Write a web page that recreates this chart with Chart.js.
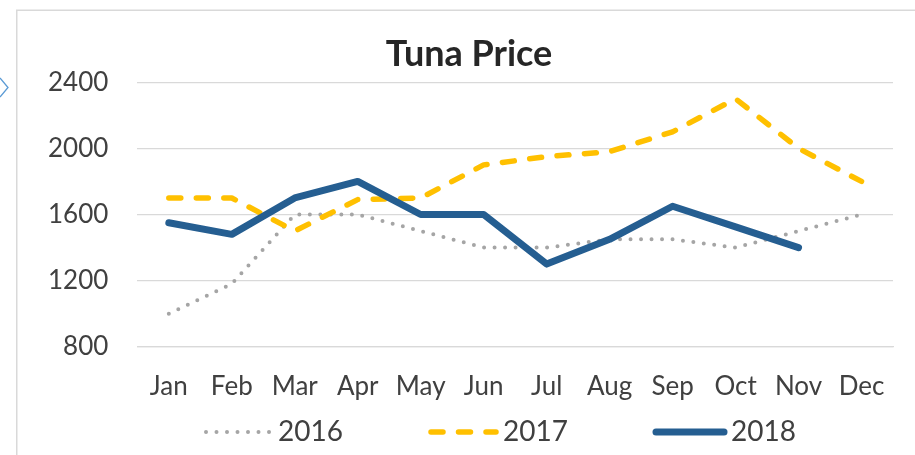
<!DOCTYPE html>
<html>
<head>
<meta charset="utf-8">
<script src="https://cdn.jsdelivr.net/npm/chart.js"></script>
<style>
  html, body { margin: 0; padding: 0; background: #fff; }
  #wrap { width: 915px; height: 455px; position: relative; }
</style>
</head>
<body>
<div id="wrap"><canvas id="c" width="915" height="455"></canvas></div>
<script>
const months = ['Jan', 'Feb', 'Mar', 'Apr', 'May', 'Jun', 'Jul', 'Aug', 'Sep', 'Oct', 'Nov', 'Dec'];
const price2016 = [1000, 1180, 1600, 1600, 1500, 1400, 1400, 1450, 1450, 1400, 1500, 1600];
const price2017 = [1700, 1700, 1500, 1690, 1700, 1900, 1950, 1980, 2100, 2300, 2000, 1800];
const price2018 = [1550, 1480, 1700, 1800, 1600, 1600, 1300, 1450, 1650, 1525, 1400, null];
const yTicks = [800, 1200, 1600, 2000, 2400];

const FONT = 'Lato, "Open Sans", sans-serif';
const TEXT = '#404040';

// frame of the chart object + the little selection chevron on the left edge
const framePlugin = {
  id: 'frame',
  afterLayout(chart) {
    // Excel centres the title in a frame wider than the visible crop
    chart.titleBlock.left += 13;
    chart.titleBlock.right += 13;
  },
  beforeDraw(chart) {
    const ctx = chart.ctx;
    ctx.save();
    ctx.strokeStyle = '#d9d9d9';
    ctx.lineWidth = 1.5;
    ctx.beginPath();
    ctx.moveTo(16.75, 460);
    ctx.lineTo(16.75, 10.25);
    ctx.lineTo(920, 10.25);
    ctx.stroke();
    ctx.strokeStyle = '#5b9bd5';
    ctx.lineWidth = 1.3;
    ctx.beginPath();
    ctx.moveTo(0, 78);
    ctx.lineTo(8, 87.5);
    ctx.lineTo(0, 97);
    ctx.stroke();
    ctx.restore();
  }
};

// legend drawn like Excel's: line sample then label
const legendPlugin = {
  id: 'lineLegend',
  afterDraw(chart) {
    const ctx = chart.ctx;
    const spots = [{ x: 206, w: 65 }, { x: 431, w: 65 }, { x: 656, w: 68 }];
    const y = 432;
    ctx.save();
    chart.data.datasets.forEach((ds, i) => {
      const s = spots[i];
      ctx.strokeStyle = ds.borderColor;
      ctx.lineWidth = ds.borderWidth;
      ctx.lineCap = 'round';
      ctx.setLineDash(ds.borderDash || []);
      ctx.beginPath();
      ctx.moveTo(s.x, y);
      ctx.lineTo(s.x + s.w, y);
      ctx.stroke();
      ctx.setLineDash([]);
      ctx.fillStyle = TEXT;
      ctx.font = '28px ' + FONT;
      ctx.textBaseline = 'middle';
      ctx.textAlign = 'left';
      ctx.fillText(ds.label, s.x + s.w + 7, y);
    });
    ctx.restore();
  }
};

new Chart(document.getElementById('c'), {
  type: 'line',
  data: {
    labels: months,
    datasets: [
      {
        label: '2016', data: price2016, order: 3,
        borderColor: '#a5a5a5', borderWidth: 4,
        borderDash: [0, 10.5], borderCapStyle: 'round', borderJoinStyle: 'round'
      },
      {
        label: '2017', data: price2017, order: 2,
        borderColor: '#ffc000', borderWidth: 5.5,
        borderDash: [12, 15.5], borderCapStyle: 'round', borderJoinStyle: 'round'
      },
      {
        label: '2018', data: price2018, order: 1,
        borderColor: '#255e91', borderWidth: 7,
        borderCapStyle: 'round', borderJoinStyle: 'round'
      }
    ]
  },
  options: {
    responsive: false,
    animation: false,
    events: [],
    elements: { point: { radius: 0 }, line: { tension: 0 } },
    layout: { padding: { top: 10, left: 19, right: 22, bottom: 29 } },
    plugins: {
      legend: { display: false },
      tooltip: { enabled: false },
      title: {
        display: true,
        text: 'Tuna Price',
        color: '#262626',
        font: { family: FONT, size: 36, weight: 'bold' },
        padding: { top: 23, bottom: 6 }
      }
    },
    scales: {
      x: {
        offset: true,
        grid: { display: false, drawTicks: false },
        border: { display: true, color: '#d9d9d9', width: 1.3 },
        ticks: { color: TEXT, padding: 24, maxRotation: 0, autoSkip: false, font: { family: FONT, size: 26 } }
      },
      y: {
        min: 800,
        max: 2400,
        afterBuildTicks(scale) { scale.ticks = yTicks.map(v => ({ value: v })); },
        grid: { color: '#d9d9d9', lineWidth: 1.3, drawTicks: false },
        border: { display: false },
        ticks: {
          color: TEXT, padding: 29, font: { family: FONT, size: 26 },
          callback: v => String(v)
        }
      }
    }
  },
  plugins: [framePlugin, legendPlugin]
});
</script>
</body>
</html>
